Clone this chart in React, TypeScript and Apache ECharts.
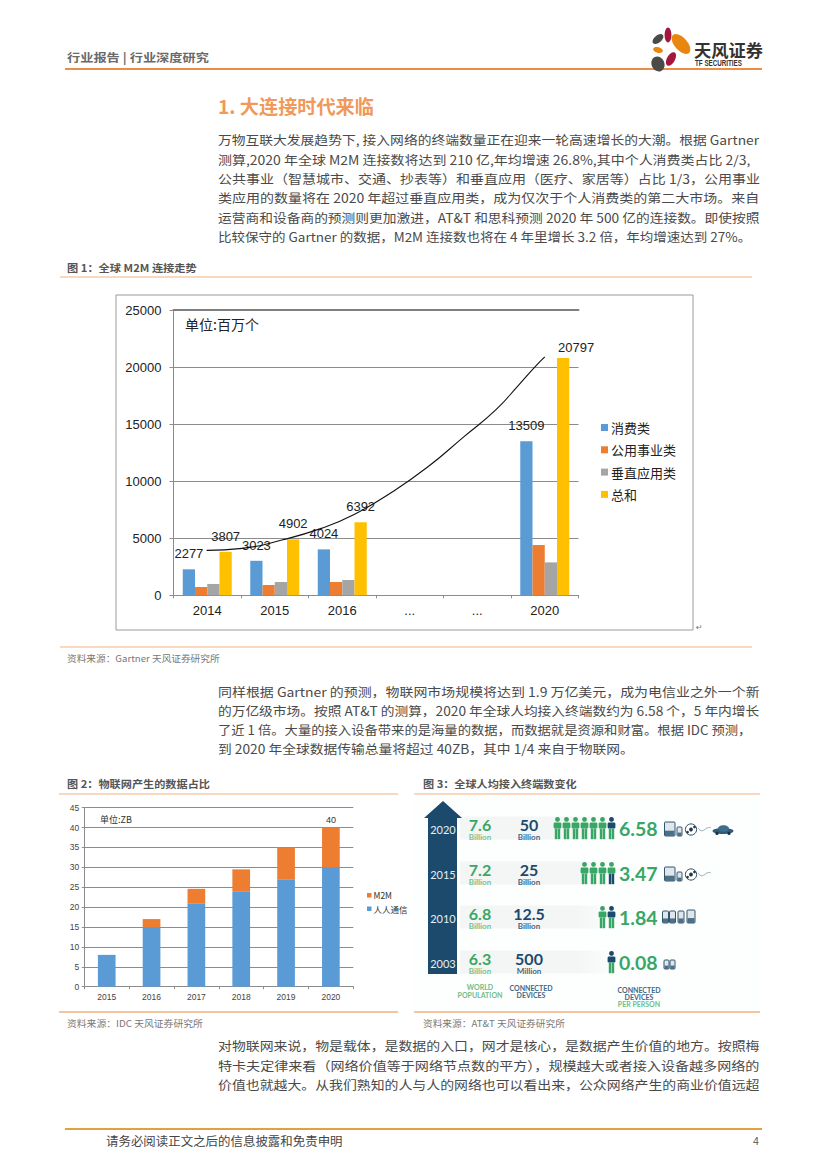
import React, { useEffect, useRef } from "react";
import * as echarts from "echarts";

// ---------- chart data ----------
const fig1Categories = ["2014", "2015", "2016", "...", "...", "2020"];
const fig1Consumer = [2277, 3023, 4024, null, null, 13509];
const fig1Utility = [730, 905, 1168, null, null, 4405];
const fig1Vertical = [993, 1168, 1343, null, null, 2883];
const fig1Total = [3807, 4902, 6392, null, null, 20797];
const fig1Trend = [
  [0.49, 3938], [1.02, 4113], [1.605, 4842], [2.19, 5863], [2.66, 7030], [3.246, 9072],
  [3.77, 11260], [4.3, 13885], [4.77, 16220], [5.12, 18470], [5.355, 20015], [5.5, 20886],
];
const fig2Categories = ["2015", "2016", "2017", "2018", "2019", "2020"];
const fig2Human = [8, 15, 21, 24, 27, 30];
const fig2M2M = [0, 2, 3.6, 5.5, 8, 10];
const fig2Top = ["", "", "", "", "", "40"];

const fig3Years = ["2020", "2015", "2010", "2003"];
const fig3Population = ["7.6", "7.2", "6.8", "6.3"];
const fig3Devices = ["50", "25", "12.5", "500"];
const fig3DeviceUnits = ["Billion", "Billion", "Billion", "Million"];
const fig3PerPerson = ["6.58", "3.47", "1.84", "0.08"];
const fig3People = [7, 4, 2, 1];

// ---------- page text ----------
const para1 = [
  "万物互联大发展趋势下, 接入网络的终端数量正在迎来一轮高速增长的大潮。根据 Gartner",
  "测算,2020 年全球 M2M 连接数将达到 210 亿,年均增速 26.8%,其中个人消费类占比 2/3,",
  "公共事业（智慧城市、交通、抄表等）和垂直应用（医疗、家居等）占比 1/3，公用事业",
  "类应用的数量将在 2020 年超过垂直应用类，成为仅次于个人消费类的第二大市场。来自",
  "运营商和设备商的预测则更加激进，AT&T 和思科预测 2020 年 500 亿的连接数。即使按照",
  "比较保守的 Gartner 的数据，M2M 连接数也将在 4 年里增长 3.2 倍，年均增速达到 27%。",
];
const para1Y = [140, 160, 179, 198, 218, 237];
const para1Right = [760, 751, 760, 760, 760, 752];
const para2 = [
  "同样根据 Gartner 的预测，物联网市场规模将达到 1.9 万亿美元，成为电信业之外一个新",
  "的万亿级市场。按照 AT&T 的测算，2020 年全球人均接入终端数约为 6.58 个，5 年内增长",
  "了近 1 倍。大量的接入设备带来的是海量的数据，而数据就是资源和财富。根据 IDC 预测，",
  "到 2020 年全球数据传输总量将超过 40ZB，其中 1/4 来自于物联网。",
];
const para2Y = [692, 711, 730, 749];
const para2Right = [760, 760, 752, 634];
const para3 = [
  "对物联网来说，物是载体，是数据的入口，网才是核心，是数据产生价值的地方。按照梅",
  "特卡夫定律来看（网络价值等于网络节点数的平方），规模越大或者接入设备越多网络的",
  "价值也就越大。从我们熟知的人与人的网络也可以看出来，公众网络产生的商业价值远超",
];
const para3Y = [1046, 1066, 1085];
const para3Right = [760, 760, 760];

const CJK = '"Noto Sans CJK SC", "Noto Sans", sans-serif';
const LATIN = '"Liberation Sans", Arial, sans-serif';
const ROUND = 'Lato, "Open Sans", sans-serif';
const BLUE = "#5b9bd5";
const ORANGE = "#ed7d31";
const GREY = "#a5a5a5";
const YELLOW = "#ffc000";
const GRID = "#8c8c8c";
const RULE = "#f2b27f";
const GREEN = "#38a765";
const NAVY = "#1b4a6d";

const ctx = document.createElement("canvas").getContext("2d")!;
function measure(text: string, size: number, weight: string | number, family: string) {
  ctx.font = `${weight} ${size}px ${family}`;
  return ctx.measureText(text).width;
}

function txt(text: string, x: number, y: number, size: number, fill: string, o: any = {}) {
  const weight = o.weight ?? "normal";
  const family = o.family ?? CJK;
  const align = o.align ?? "left";
  const el: any = {
    type: "text",
    x,
    y,
    z: o.z ?? 20,
    silent: true,
    style: {
      text,
      fill,
      fontSize: size,
      fontWeight: weight,
      fontFamily: family,
      align,
      textAlign: align,
      verticalAlign: "middle",
      textVerticalAlign: "middle",
    },
  };
  if (o.width) el.scaleX = o.width / measure(text, size, weight, family);
  return el;
}
function rule(x1: number, x2: number, y: number, color: string, w = 1) {
  return { type: "line", silent: true, z: 5, shape: { x1, y1: y, x2, y2: y }, style: { stroke: color, lineWidth: w } };
}
function box(x: number, y: number, width: number, height: number, style: any, z = 10) {
  return { type: "rect", silent: true, z, shape: { x, y, width, height }, style };
}
function petal(x: number, y: number, rx: number, ry: number, deg: number, fill: string) {
  return {
    type: "ellipse", silent: true, z: 10, x, y, rotation: (deg * Math.PI) / 180,
    shape: { cx: 0, cy: 0, rx, ry }, style: { fill },
  };
}
function paragraph(lines: string[], ys: number[], rights: number[]) {
  return lines.map((line, i) => txt(line, 218, ys[i], 12.5, "#4a4a4a", { width: rights[i] - 218 }));
}

function person(cx: number, cy: number, top: string, bottom: string) {
  return [
    { type: "circle", silent: true, z: 12, shape: { cx, cy: cy - 8.6, r: 2.4 }, style: { fill: top } },
    { type: "rect", silent: true, z: 12, shape: { x: cx - 3.9, y: cy - 5.6, width: 7.8, height: 6.2, r: 1.4 }, style: { fill: top } },
    box(cx - 2.7, cy + 0.6, 2.5, 10.6, { fill: bottom }, 12),
    box(cx + 0.2, cy + 0.6, 2.5, 10.6, { fill: bottom }, 12),
  ];
}
function phone(x: number, y: number, w: number, h: number) {
  return [
    { type: "rect", silent: true, z: 12, shape: { x, y, width: w, height: h, r: 1 }, style: { fill: "#dfe7ec", stroke: "#33566f", lineWidth: 1 } },
    box(x + 0.5, y + h * 0.62, w - 1, h * 0.38, { fill: "#4d6f87" }, 12),
  ];
}
function ball(cx: number, cy: number) {
  return [
    { type: "circle", silent: true, z: 12, shape: { cx, cy, r: 5.6 }, style: { fill: "#fff", stroke: "#2d4a5e", lineWidth: 1 } },
    { type: "circle", silent: true, z: 12, shape: { cx, cy, r: 1.9 }, style: { fill: "#22384a" } },
    { type: "circle", silent: true, z: 12, shape: { cx: cx + 3.5, cy: cy - 2.5, r: 1.3 }, style: { fill: "#22384a" } },
    { type: "circle", silent: true, z: 12, shape: { cx: cx - 3.4, cy: cy + 2.6, r: 1.3 }, style: { fill: "#22384a" } },
  ];
}
function wave(x: number, y: number) {
  return {
    type: "polyline", silent: true, z: 12,
    shape: { points: [[x, y - 1], [x + 3, y + 1.6], [x + 6, y + 1], [x + 9, y - 1], [x + 13, y - 1.6]], smooth: 0.5 },
    style: { stroke: "#8fa3b0", lineWidth: 0.9, fill: "none" },
  };
}
function car(cx: number, cy: number) {
  return [
    { type: "ellipse", silent: true, z: 12, shape: { cx, cy: cy + 1, rx: 10.5, ry: 3 }, style: { fill: "#2f5a78" } },
    { type: "ellipse", silent: true, z: 12, shape: { cx: cx + 0.5, cy: cy - 1.5, rx: 5.5, ry: 3.2 }, style: { fill: "#3f6d8c" } },
    { type: "circle", silent: true, z: 13, shape: { cx: cx - 6, cy: cy + 3.4, r: 1.7 }, style: { fill: "#16334a" } },
    { type: "circle", silent: true, z: 13, shape: { cx: cx + 6, cy: cy + 3.4, r: 1.7 }, style: { fill: "#16334a" } },
  ];
}

function figure3(): any[] {
  const out: any[] = [];
  const rows = [828, 873, 917, 962];
  out.push(box(414, 796, 346, 214, { fill: "#fdfefe" }, 1));
  out.push({
    type: "polygon", silent: true, z: 11,
    shape: { points: [[443, 801], [462, 818], [457, 818], [457, 974], [428, 974], [428, 818], [424, 818]] },
    style: { fill: NAVY },
  });
  rows.forEach((y, i) => {
    out.push(box(460, y - 11.5, 158, 23, {
      fill: {
        type: "linear", x: 0, y: 0, x2: 1, y2: 0,
        colorStops: [
          { offset: 0, color: "#f4f6f6" }, { offset: 0.75, color: "#f4f6f6" }, { offset: 1, color: "#fdfefe" },
        ],
      },
    }, 2));
    out.push(txt(fig3Years[i], 443, y + 1, 11, "#e8eef2", { family: ROUND, align: "center" }));
    out.push(txt(fig3Population[i], 480, y - 4, 16, GREEN, { family: ROUND, weight: "bold", align: "center" }));
    out.push(txt("Billion", 480, y + 8.6, 8, "#74c293", { family: ROUND, weight: "bold", align: "center" }));
    out.push(txt(fig3Devices[i], 529, y - 4, 16, NAVY, { family: ROUND, weight: "bold", align: "center" }));
    out.push(txt(fig3DeviceUnits[i], 529, y + 8.6, 8, "#3f6784", { family: ROUND, weight: "bold", align: "center" }));
    out.push(txt(fig3PerPerson[i], 619, y + 0.5, 19.5, GREEN, { family: ROUND, weight: "bold" }));
    for (let p = 0; p < fig3People[i]; p++) {
      const last = p === 0;
      const top = last && i !== 1 ? NAVY : GREEN;
      const bottom = last && i === 1 ? NAVY : GREEN;
      out.push(...person(611.5 - p * 9, y, top, bottom));
    }
  });
  [0, 1].forEach((i) => {
    const y = rows[i];
    out.push(...phone(664.5, y - 6, 10.5, 14));
    out.push(...phone(677, y - 1, 5, 9));
    out.push(...ball(691, y + 1.5));
    out.push(wave(698, y + 1));
  });
  out.push(...car(723, rows[0] + 2));
  [662.5, 669.5, 678, 687].forEach((x, k) => out.push(...phone(x, rows[2] - 6 + (k === 3 ? -1 : 0), k === 3 ? 8 : 6, k === 3 ? 13 : 12)));
  [664, 670].forEach((x) => out.push(...phone(x, rows[3] - 2, 5, 9)));
  const foot = (text: string, x: number, y: number, color: string) =>
    txt(text, x, y, 7, color, { family: ROUND, weight: "bold", align: "center" });
  out.push(foot("WORLD", 480, 987, "#6dbd8d"), foot("POPULATION", 480, 995, "#6dbd8d"));
  out.push(foot("CONNECTED", 531, 988, "#3f6784"), foot("DEVICES", 531, 995, "#3f6784"));
  out.push(foot("CONNECTED", 639, 990, "#3f6784"), foot("DEVICES", 639, 997, "#3f6784"), foot("PER PERSON", 639, 1004, "#6dbd8d"));
  return out;
}

function pageGraphics(): any[] {
  return [
    // header
    txt("行业报告 | 行业深度研究", 67, 57, 11.5, "#6a6a6a", { weight: "bold", width: 142 }),
    rule(65, 762, 69, "#ea8f45", 2),
    petal(658, 39, 6.4, 3.6, 40, "#4a4a48"),
    petal(668, 35, 3.4, 7.4, 0, "#a3173d"),
    petal(681, 44, 12, 6.4, -48, "#e9860f"),
    petal(658, 50, 5, 2.8, -15, "#e9860f"),
    petal(671, 59, 4, 7.4, -30, "#a3173d"),
    petal(658, 64, 6.4, 7.6, 25, "#4a4a48"),
    txt("天风证券", 694, 50, 17, "#333", { weight: "bold", width: 69 }),
    txt("TF SECURITIES", 695, 63, 8.5, "#333", { family: LATIN, weight: "bold", width: 47 }),
    // section
    txt("1. 大连接时代来临", 218, 106, 19, "#f0995a", { weight: "bold", width: 156 }),
    ...paragraph(para1, para1Y, para1Right),
    // figure 1
    txt("图 1：全球 M2M 连接走势", 67, 267, 10.5, "#555", { weight: "bold", width: 130 }),
    rule(60, 752, 277, RULE, 1.2),
    box(116, 295, 577, 335, { fill: "none", stroke: "#9a9a9a", lineWidth: 1 }),
    txt("单位:百万个", 185, 324, 14, "#222"),
    txt("↵", 696, 627, 8, "#777", { family: '"DejaVu Sans"' }),
    rule(60, 752, 647, RULE, 1.2),
    txt("资料来源：Gartner 天风证券研究所", 67, 658, 9, "#777", { width: 153 }),
    // second paragraph
    ...paragraph(para2, para2Y, para2Right),
    // figure 2
    txt("图 2：物联网产生的数据占比", 67, 783, 10.5, "#555", { weight: "bold", width: 143 }),
    rule(59, 398, 794, RULE, 1.2),
    txt("单位:ZB", 100, 819, 9, "#333"),
    rule(59, 398, 1012, RULE, 1.6),
    txt("资料来源：IDC 天风证券研究所", 67, 1023, 9, "#777", { width: 136 }),
    // figure 3
    txt("图 3：全球人均接入终端数变化", 423, 783, 10.5, "#555", { weight: "bold", width: 154 }),
    rule(414, 760, 794, RULE, 1.2),
    ...figure3(),
    rule(414, 760, 1012, RULE, 1.6),
    txt("资料来源：AT&T 天风证券研究所", 423, 1023, 9, "#777", { width: 142 }),
    // last paragraph and footer
    ...paragraph(para3, para3Y, para3Right),
    rule(65, 762, 1129, "#e3a03f", 2),
    txt("请务必阅读正文之后的信息披露和免责申明", 106, 1141, 12, "#444", { width: 237 }),
    txt("4", 753, 1141, 10.5, "#555", { family: LATIN }),
  ];
}

const fig1Label: any = {
  show: true, position: "top", distance: 9,
  color: "#222", fontFamily: LATIN, fontSize: 13,
};

function buildOption(): any {
  const bar1 = (name: string, data: any[], color: string, label?: any) => ({
    type: "bar", name, data, xAxisIndex: 0, yAxisIndex: 0, barWidth: 12.25, barGap: "0%",
    itemStyle: { color }, label: label ?? { show: false }, z: 3,
  });
  const lastTotal = fig1Total.length - 1;
  const totalData = fig1Total.map((v, i) =>
    i === lastTotal ? { value: v, label: { ...fig1Label, offset: [13, 5] } } : v
  );
  return {
    animation: false,
    backgroundColor: "#fff",
    graphic: { elements: pageGraphics() },
    grid: [
      { left: 173.5, top: 310, width: 405, height: 285.3 },
      { left: 84.3, top: 807.7, width: 269, height: 179 },
    ],
    xAxis: [
      {
        type: "category", gridIndex: 0, data: fig1Categories, position: "bottom",
        axisLine: { lineStyle: { color: GRID } },
        axisTick: { show: true, alignWithLabel: false, length: 3, lineStyle: { color: GRID } },
        axisLabel: { color: "#222", fontFamily: LATIN, fontSize: 13, margin: 9, interval: 0 },
      },
      {
        type: "value", gridIndex: 0, min: 0, max: 6, position: "top",
        axisLine: { show: true, onZero: false, lineStyle: { color: "#7f7f7f", width: 2 } },
        axisTick: { show: false }, axisLabel: { show: false }, splitLine: { show: false },
      },
      {
        type: "category", gridIndex: 1, data: fig2Categories,
        axisLine: { lineStyle: { color: GRID } },
        axisTick: { show: true, length: 2.5, lineStyle: { color: GRID } },
        axisLabel: { color: "#444", fontFamily: LATIN, fontSize: 8.5, margin: 6, interval: 0 },
      },
    ],
    yAxis: [
      {
        type: "value", gridIndex: 0, min: 0, max: 25000, interval: 5000,
        axisLine: { show: true, lineStyle: { color: GRID } },
        axisTick: { show: true, length: 4, lineStyle: { color: GRID } },
        axisLabel: { color: "#222", fontFamily: LATIN, fontSize: 13, margin: 12, formatter: (v: number) => String(v) },
        splitLine: { show: true, lineStyle: { color: GRID, width: 1 } },
      },
      {
        type: "value", gridIndex: 1, min: 0, max: 45, interval: 5,
        axisLine: { show: true, lineStyle: { color: GRID } },
        axisTick: { show: true, length: 2.5, lineStyle: { color: GRID } },
        axisLabel: { color: "#444", fontFamily: LATIN, fontSize: 8.5, margin: 5 },
        splitLine: { show: true, lineStyle: { color: GRID, width: 1 } },
      },
    ],
    legend: [
      {
        data: ["消费类", "公用事业类", "垂直应用类", "总和"], orient: "vertical", padding: 0,
        left: 601, top: 421, itemWidth: 7, itemHeight: 7, itemGap: 9.3, icon: "rect", selectedMode: false,
        textStyle: { color: "#222", fontFamily: CJK, fontSize: 13, padding: [0, 0, 0, -2] },
      },
      {
        data: ["M2M", "人人通信"], orient: "vertical", padding: 0,
        left: 367, top: 891, itemWidth: 4.5, itemHeight: 4.5, itemGap: 5, icon: "rect", selectedMode: false,
        textStyle: { color: "#333", fontFamily: CJK, fontSize: 8.5, padding: [0, 0, 0, -3] },
      },
    ],
    series: [
      bar1("消费类", fig1Consumer, BLUE, fig1Label),
      bar1("公用事业类", fig1Utility, ORANGE),
      bar1("垂直应用类", fig1Vertical, GREY),
      bar1("总和", totalData, YELLOW, fig1Label),
      {
        type: "line", name: "趋势", data: fig1Trend, xAxisIndex: 1, yAxisIndex: 0, smooth: true,
        showSymbol: false, symbol: "none", lineStyle: { color: "#111", width: 1.1 }, z: 6, silent: true,
      },
      {
        type: "bar", name: "人人通信", data: fig2Human, xAxisIndex: 2, yAxisIndex: 1, stack: "fig2",
        barWidth: 17.7, itemStyle: { color: BLUE },
      },
      {
        type: "bar", name: "M2M", xAxisIndex: 2, yAxisIndex: 1, stack: "fig2", barWidth: 17.7,
        data: fig2M2M.map((v, i) => ({
          value: v,
          label: {
            show: fig2Top[i] !== "", position: "top", distance: 3, formatter: fig2Top[i],
            color: "#333", fontFamily: LATIN, fontSize: 9,
          },
        })),
        itemStyle: { color: ORANGE },
      },
    ],
  };
}

export default function App() {
  const ref = useRef<HTMLDivElement>(null);
  useEffect(() => {
    document.body.style.margin = "0";
    document.body.style.background = "#fff";
    const chart = echarts.init(ref.current!, undefined, { renderer: "svg", width: 827, height: 1169 });
    chart.setOption(buildOption());
    return () => chart.dispose();
  }, []);
  return <div ref={ref} style={{ position: "absolute", left: 0, top: 0, width: 827, height: 1169 }} />;
}
